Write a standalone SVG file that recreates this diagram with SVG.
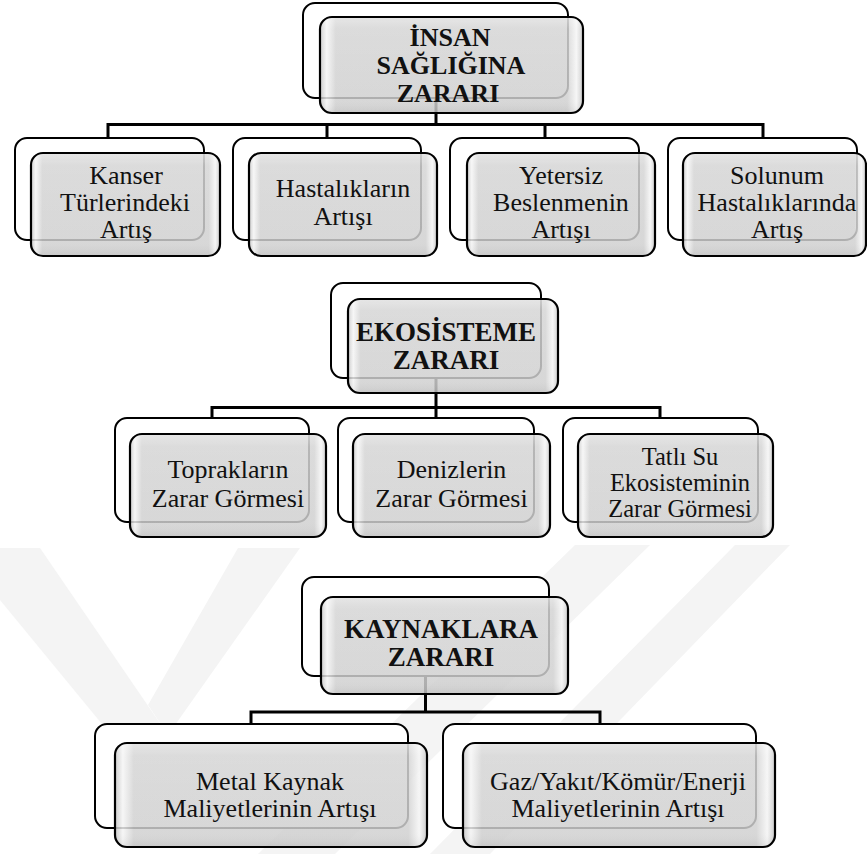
<svg xmlns="http://www.w3.org/2000/svg" width="867" height="854" viewBox="0 0 867 854">
<defs>
  <linearGradient id="bevel" x1="0" y1="0" x2="1" y2="0">
    <stop offset="0" stop-color="#c2c2c2"/>
    <stop offset="0.025" stop-color="#f4f4f4"/>
    <stop offset="0.06" stop-color="#d0d0d0"/>
    <stop offset="0.94" stop-color="#d0d0d0"/>
    <stop offset="0.975" stop-color="#f4f4f4"/>
    <stop offset="1" stop-color="#c2c2c2"/>
  </linearGradient>
  <linearGradient id="shine" x1="0" y1="0" x2="0" y2="1">
    <stop offset="0" stop-color="#ffffff" stop-opacity="0.35"/>
    <stop offset="0.12" stop-color="#ffffff" stop-opacity="0.1"/>
    <stop offset="0.85" stop-color="#ffffff" stop-opacity="0"/>
    <stop offset="1" stop-color="#000000" stop-opacity="0.06"/>
  </linearGradient>
</defs>
<style>
  .wm{fill:#f4f4f4}
  .back{fill:#ffffff;stroke:#000;stroke-width:2}
  .front{fill:url(#bevel);fill-opacity:0.84;stroke:#000;stroke-width:2.2}
  .shine{fill:url(#shine);stroke:none}
  .conn{fill:none;stroke:#000;stroke-width:3}
  .h{font-family:"Liberation Serif","Times New Roman",serif;font-weight:bold;text-anchor:middle;fill:#111}
  .t{font-family:"Liberation Serif","Times New Roman",serif;font-size:26px;text-anchor:middle;fill:#111}
</style>

<g id="watermark">
  <polygon class="wm" points="0,548 40,548 168,735 148,780 0,600"/>
  <polygon class="wm" points="238,548 300,548 168,735 148,705"/>
  <polygon class="wm" points="575,545 650,545 335,854 258,854"/>
  <polygon class="wm" points="735,545 790,545 490,854 430,854"/>
</g>

<g id="connectors">
  <path class="conn" d="M436 98V124.5M108 124.5H763M108 123V138M327 123V138M545 123V138M763 123V138"/>
  <path class="conn" d="M436 378V407.5M212 407.5H660M212 406V418M436 406V418M660 406V418"/>
  <path class="conn" d="M425.5 676V712M251 712H600M251 710.5V724M600 710.5V724"/>
</g>

<g id="insan">
  <rect class="back" x="303" y="3" width="265" height="95" rx="12"/>
  <rect class="front" x="320" y="17" width="263" height="96" rx="12"/>
  <rect class="shine" x="321" y="18" width="261" height="94" rx="11"/>
  <text class="h" font-size="26"><tspan x="450" y="46">İNSAN</tspan><tspan x="451" y="74">SAĞLIĞINA</tspan><tspan x="448" y="102">ZARARI</tspan></text>
</g>

<g id="kanser">
  <rect class="back" x="15" y="138" width="189" height="102" rx="12"/>
  <rect class="front" x="31" y="153" width="189" height="103" rx="12"/>
  <rect class="shine" x="32" y="154" width="187" height="101" rx="11"/>
  <text class="t"><tspan x="126" y="184">Kanser</tspan><tspan x="125" y="211">Türlerindeki</tspan><tspan x="126" y="238">Artış</tspan></text>
</g>

<g id="hastaliklar">
  <rect class="back" x="233" y="138" width="188" height="102" rx="12"/>
  <rect class="front" x="249" y="153" width="188" height="103" rx="12"/>
  <rect class="shine" x="250" y="154" width="186" height="101" rx="11"/>
  <text class="t"><tspan x="343" y="197">Hastalıkların</tspan><tspan x="343" y="225">Artışı</tspan></text>
</g>

<g id="yetersiz">
  <rect class="back" x="450" y="138" width="189" height="102" rx="12"/>
  <rect class="front" x="467" y="153" width="188" height="103" rx="12"/>
  <rect class="shine" x="468" y="154" width="186" height="101" rx="11"/>
  <text class="t"><tspan x="561" y="184">Yetersiz</tspan><tspan x="561" y="211">Beslenmenin</tspan><tspan x="561" y="238">Artışı</tspan></text>
</g>

<g id="solunum">
  <rect class="back" x="668" y="138" width="189" height="102" rx="12"/>
  <rect class="front" x="683" y="153" width="183" height="103" rx="12"/>
  <rect class="shine" x="684" y="154" width="181" height="101" rx="11"/>
  <text class="t"><tspan x="777" y="184">Solunum</tspan><tspan x="777" y="211">Hastalıklarında</tspan><tspan x="777" y="238">Artış</tspan></text>
</g>

<g id="ekosistem">
  <rect class="back" x="331" y="283" width="210" height="95" rx="12"/>
  <rect class="front" x="348" y="299" width="210" height="94" rx="12"/>
  <rect class="shine" x="349" y="300" width="208" height="92" rx="11"/>
  <text class="h" font-size="27"><tspan x="446" y="341">EKOSİSTEME</tspan><tspan x="446" y="369">ZARARI</tspan></text>
</g>

<g id="topraklar">
  <rect class="back" x="115" y="418" width="194" height="104" rx="12"/>
  <rect class="front" x="130" y="434" width="196" height="103" rx="12"/>
  <rect class="shine" x="131" y="435" width="194" height="101" rx="11"/>
  <text class="t"><tspan x="228" y="478">Toprakların</tspan><tspan x="228" y="507">Zarar Görmesi</tspan></text>
</g>

<g id="denizler">
  <rect class="back" x="338" y="418" width="196" height="104" rx="12"/>
  <rect class="front" x="353" y="434" width="197" height="103" rx="12"/>
  <rect class="shine" x="354" y="435" width="195" height="101" rx="11"/>
  <text class="t"><tspan x="451.5" y="478">Denizlerin</tspan><tspan x="451.5" y="507">Zarar Görmesi</tspan></text>
</g>

<g id="tatlisu">
  <rect class="back" x="563" y="418" width="195" height="104" rx="12"/>
  <rect class="front" x="578" y="434" width="195" height="103" rx="12"/>
  <rect class="shine" x="579" y="435" width="193" height="101" rx="11"/>
  <text class="t" font-size="24.5" style="font-size:24.5px"><tspan x="680" y="465">Tatlı Su</tspan><tspan x="680" y="491">Ekosisteminin</tspan><tspan x="680" y="517">Zarar Görmesi</tspan></text>
</g>

<g id="kaynaklar">
  <rect class="back" x="302" y="577" width="247" height="99" rx="12"/>
  <rect class="front" x="321" y="597" width="247" height="97" rx="12"/>
  <rect class="shine" x="322" y="598" width="245" height="95" rx="11"/>
  <text class="h" font-size="27"><tspan x="441" y="638">KAYNAKLARA</tspan><tspan x="441" y="666">ZARARI</tspan></text>
</g>

<g id="metal">
  <rect class="back" x="95" y="724" width="313" height="104" rx="12"/>
  <rect class="front" x="115" y="743" width="312" height="104" rx="12"/>
  <rect class="shine" x="116" y="744" width="310" height="102" rx="11"/>
  <text class="t"><tspan x="270" y="790">Metal Kaynak</tspan><tspan x="270" y="817">Maliyetlerinin Artışı</tspan></text>
</g>

<g id="enerji">
  <rect class="back" x="443" y="724" width="313" height="104" rx="12"/>
  <rect class="front" x="463" y="743" width="312" height="104" rx="12"/>
  <rect class="shine" x="464" y="744" width="310" height="102" rx="11"/>
  <text class="t"><tspan x="618" y="790">Gaz/Yakıt/Kömür/Enerji</tspan><tspan x="618" y="817">Maliyetlerinin Artışı</tspan></text>
</g>
</svg>
